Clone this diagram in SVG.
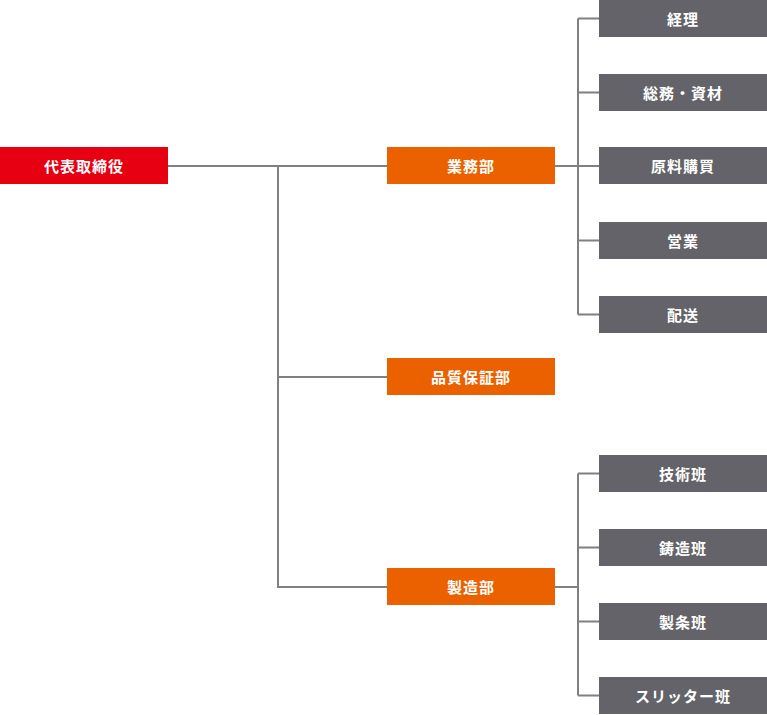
<svg xmlns="http://www.w3.org/2000/svg" width="767" height="715" viewBox="0 0 767 715">
<style>
.red{fill:#E60012}
.org{fill:#EB6100}
.gry{fill:#636369}
text{font-family:"Noto Sans CJK JP","Noto Sans",sans-serif;font-weight:bold;font-size:15px;fill:#fff;text-anchor:middle;dominant-baseline:central;letter-spacing:1px}
.ln{stroke:#808080;stroke-width:2;fill:none}
</style>
<g id="connectors">
<path class="ln" d="M168 166H387M278 166V587H387M278 377H387"/>
<path class="ln" d="M555 166H599M578 18.5V314.5M578 18.5H599M578 92.5H599M578 240.5H599M578 314.5H599"/>
<path class="ln" d="M555 587H578M578 473.5V695.5M578 473.5H599M578 547.5H599M578 621.5H599M578 695.5H599"/>
</g>
<g id="ceo"><rect class="red" x="0" y="147" width="168" height="37"/><text x="84" y="165.5">代表取締役</text></g>
<g id="gyomu"><rect class="org" x="387" y="147" width="168" height="37"/><text x="471" y="165.5">業務部</text></g>
<g id="hinshitsu"><rect class="org" x="387" y="358" width="168" height="37"/><text x="471" y="376.5">品質保証部</text></g>
<g id="seizo"><rect class="org" x="387" y="568" width="168" height="37"/><text x="471" y="586.5">製造部</text></g>
<g id="keiri"><rect class="gry" x="599" y="0" width="168" height="37"/><text x="683" y="18.5">経理</text></g>
<g id="somu"><rect class="gry" x="599" y="74" width="168" height="37"/><text x="683" y="92.5">総務・資材</text></g>
<g id="genryo"><rect class="gry" x="599" y="147" width="168" height="37"/><text x="683" y="165.5">原料購買</text></g>
<g id="eigyo"><rect class="gry" x="599" y="222" width="168" height="37"/><text x="683" y="240.5">営業</text></g>
<g id="haiso"><rect class="gry" x="599" y="296" width="168" height="37"/><text x="683" y="314.5">配送</text></g>
<g id="gijutsu"><rect class="gry" x="599" y="455" width="168" height="37"/><text x="683" y="473.5">技術班</text></g>
<g id="chuzo"><rect class="gry" x="599" y="529" width="168" height="37"/><text x="683" y="547.5">鋳造班</text></g>
<g id="seijo"><rect class="gry" x="599" y="603" width="168" height="37"/><text x="683" y="621.5">製条班</text></g>
<g id="slitter"><rect class="gry" x="599" y="677" width="168" height="37"/><text x="683" y="695.5">スリッター班</text></g>
</svg>
